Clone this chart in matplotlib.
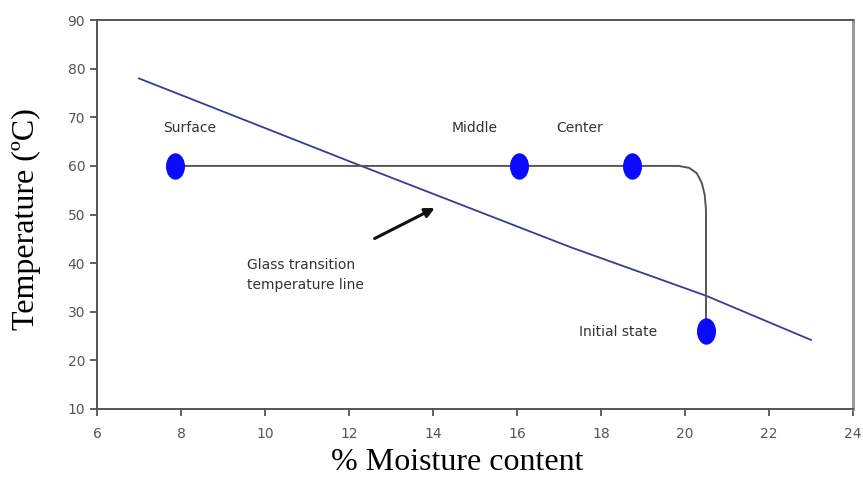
import matplotlib.pyplot as plt
import numpy as np
from matplotlib.path import Path
from matplotlib.transforms import Affine2D

# --- data ---
tg_x = [7.0, 12.2, 17.3, 20.5, 23.0]
tg_y = [78.0, 60.3, 43.2, 33.3, 24.2]

path_x = [7.85, 19.85, 20.1, 20.28, 20.4, 20.47, 20.5, 20.5]
path_y = [60.0, 60.0, 59.6, 58.5, 56.5, 54.0, 51.0, 26.0]

pt_names = ['Surface', 'Middle', 'Center', 'Initial state']
pt_x = [7.85, 16.05, 18.75, 20.5]
pt_y = [60.0, 60.0, 60.0, 26.0]

x_ticks = [6, 8, 10, 12, 14, 16, 18, 20, 22, 24]
y_ticks = [10, 20, 30, 40, 50, 60, 70, 80, 90]

fig = plt.figure(figsize=(8.63, 4.78), dpi=100)
ax = fig.add_axes([0.1124, 0.1444, 0.8760, 0.8136])

ax.plot(tg_x, tg_y, color='#3b3b96', linewidth=1.3)
ax.plot(path_x, path_y, color='#555555', linewidth=1.4)

# slightly tall ellipse marker
ell = Path.unit_circle().transformed(Affine2D().scale(0.72, 1.0))
ax.plot(pt_x, pt_y, linestyle='none', marker=ell, markersize=19,
        color='#0a0aff', markeredgewidth=0)

lbl_font = dict(fontsize=10, color='#333333', family='DejaVu Sans')
ax.text(8.2, 67.8, pt_names[0], ha='center', va='center', **lbl_font)
ax.text(14.98, 67.8, pt_names[1], ha='center', va='center', **lbl_font)
ax.text(17.5, 67.8, pt_names[2], ha='center', va='center', **lbl_font)
ax.text(18.4, 25.8, pt_names[3], ha='center', va='center', **lbl_font)
ax.text(9.57, 37.6, 'Glass transition\ntemperature line', ha='left', va='center',
        linespacing=1.5, **lbl_font)

ax.annotate('', xy=(14.1, 51.6), xytext=(12.55, 44.8),
            arrowprops=dict(arrowstyle='-|>', color='#111111', lw=2.2,
                            mutation_scale=14))

ax.set_xlim(6, 24)
ax.set_ylim(10, 90)
ax.set_xticks(x_ticks)
ax.set_yticks(y_ticks)
ax.tick_params(direction='out', length=5, width=1.2, colors='#444444',
               labelsize=10, labelcolor='#555555')
ax.tick_params(axis='x', pad=8)

for side in ['left', 'bottom', 'top']:
    ax.spines[side].set_color('#555555')
    ax.spines[side].set_linewidth(1.4)
ax.spines['right'].set_color('#999999')
ax.spines['right'].set_linewidth(2.2)

ax.set_xlabel('% Moisture content', fontsize=23, family='Liberation Serif')
ax.set_ylabel('Temperature (ºC)', fontsize=23, family='Liberation Serif')
ax.xaxis.set_label_coords(0.476, -0.138)
ax.xaxis.label.set_va('center')
ax.yaxis.set_label_coords(-0.093, 0.488)
ax.yaxis.label.set_va('center')

fig.savefig('out.png', dpi=100)
